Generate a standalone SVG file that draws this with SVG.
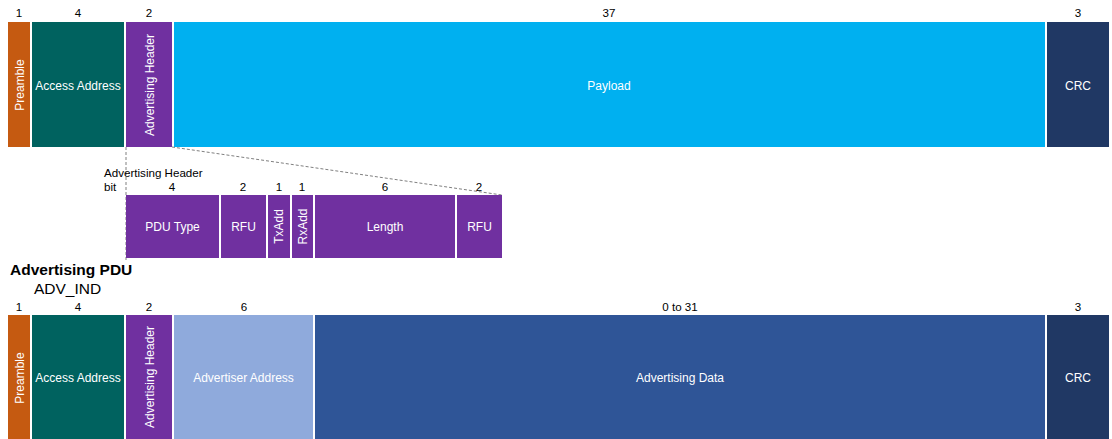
<svg xmlns="http://www.w3.org/2000/svg" width="1112" height="439" viewBox="0 0 1112 439">
<style>
text{font-family:"Liberation Sans",Arial,sans-serif;}
.n{font-size:11.6px;fill:#000;text-anchor:middle;}
.w{font-size:12px;fill:#fff;text-anchor:middle;dominant-baseline:central;}
.lab{font-size:11.6px;fill:#000;}
.dash{stroke:#808080;stroke-width:1;stroke-dasharray:3,2;fill:none;}
</style>
<rect width="1112" height="439" fill="#fff"/>
<!-- top row -->
<g id="top-numbers">
<text class="n" x="19" y="17">1</text>
<text class="n" x="78" y="17">4</text>
<text class="n" x="149" y="17">2</text>
<text class="n" x="609" y="17">37</text>
<text class="n" x="1078" y="17">3</text>
</g>
<g id="top-preamble"><rect x="8" y="22" width="22" height="125" fill="#C55A11"/><text class="w" transform="translate(19.5,85) rotate(-90)">Preamble</text></g>
<g id="top-access"><rect x="32" y="22" width="92" height="125" fill="#00625F"/><text class="w" x="78" y="86">Access Address</text></g>
<g id="top-header"><rect x="126" y="22" width="46" height="125" fill="#7030A0"/><text class="w" transform="translate(149.5,85) rotate(-90)">Advertising Header</text></g>
<g id="top-payload"><rect x="174" y="22" width="871" height="125" fill="#00B0F0"/><text class="w" x="609" y="86">Payload</text></g>
<g id="top-crc"><rect x="1047" y="22" width="62" height="125" fill="#203864"/><text class="w" x="1078" y="86">CRC</text></g>
<!-- connectors -->
<g id="connectors">
<line class="dash" x1="126" y1="147" x2="126" y2="260"/>
<line class="dash" x1="172" y1="147" x2="502" y2="195"/>
</g>
<!-- header bits -->
<g id="header-labels">
<text class="lab" x="104" y="177">Advertising Header</text>
<text class="lab" x="104" y="191">bit</text>
<text class="n" x="172" y="191">4</text>
<text class="n" x="243" y="191">2</text>
<text class="n" x="279" y="191">1</text>
<text class="n" x="302" y="191">1</text>
<text class="n" x="385" y="191">6</text>
<text class="n" x="479" y="191">2</text>
</g>
<g id="bit-pdutype"><rect x="126" y="195" width="93" height="63" fill="#7030A0"/><text class="w" x="172.5" y="227">PDU Type</text></g>
<g id="bit-rfu1"><rect x="221" y="195" width="45" height="63" fill="#7030A0"/><text class="w" x="243.5" y="227">RFU</text></g>
<g id="bit-txadd"><rect x="268" y="195" width="22" height="63" fill="#7030A0"/><text class="w" transform="translate(279,226.5) rotate(-90)">TxAdd</text></g>
<g id="bit-rxadd"><rect x="292" y="195" width="21" height="63" fill="#7030A0"/><text class="w" transform="translate(302.5,226.5) rotate(-90)">RxAdd</text></g>
<g id="bit-length"><rect x="315" y="195" width="140" height="63" fill="#7030A0"/><text class="w" x="385" y="227">Length</text></g>
<g id="bit-rfu2"><rect x="457" y="195" width="45" height="63" fill="#7030A0"/><text class="w" x="479.5" y="227">RFU</text></g>
<!-- bottom -->
<g id="pdu-title">
<text x="10" y="275" style="font-size:15.5px;font-weight:bold;fill:#000">Advertising PDU</text>
<text x="34" y="294" style="font-size:15.5px;fill:#000">ADV_IND</text>
</g>
<g id="bottom-numbers">
<text class="n" x="19" y="311">1</text>
<text class="n" x="78" y="311">4</text>
<text class="n" x="149" y="311">2</text>
<text class="n" x="244" y="311">6</text>
<text class="n" x="680" y="311">0 to 31</text>
<text class="n" x="1078" y="311">3</text>
</g>
<g id="bot-preamble"><rect x="8" y="315" width="22" height="124" fill="#C55A11"/><text class="w" transform="translate(19.5,378) rotate(-90)">Preamble</text></g>
<g id="bot-access"><rect x="32" y="315" width="92" height="124" fill="#00625F"/><text class="w" x="78" y="378">Access Address</text></g>
<g id="bot-header"><rect x="126" y="315" width="46" height="124" fill="#7030A0"/><text class="w" transform="translate(149.5,377) rotate(-90)">Advertising Header</text></g>
<g id="bot-advaddr"><rect x="174" y="315" width="139" height="124" fill="#8FAADC"/><text class="w" x="243.5" y="378">Advertiser Address</text></g>
<g id="bot-advdata"><rect x="315" y="315" width="730" height="124" fill="#2F5597"/><text class="w" x="680" y="378">Advertising Data</text></g>
<g id="bot-crc"><rect x="1047" y="315" width="62" height="124" fill="#203864"/><text class="w" x="1078" y="378">CRC</text></g>
</svg>
